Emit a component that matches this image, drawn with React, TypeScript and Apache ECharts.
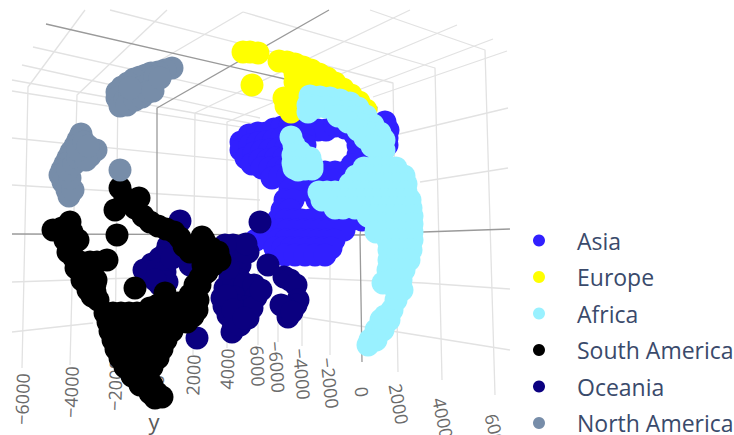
import React, { useEffect, useRef } from "react";
import * as echarts from "echarts";

const asia = [[241,142],[249,135],[258,133],[266,133],[274,129],[282,127],[290,126],[300,125],[310,128],[318,130],[326,130],[335,126],[345,128],[355,135],[358,145],[358,155],[352,165],[345,172],[335,172],[325,172],
[241,150],[250,145],[258,143],[266,142],[274,140],[282,138],[290,136],[304,135],[305,145],[303,150],
[246,158],[254,153],[262,151],[270,150],[278,149],[286,148],[252,164],[260,160],[268,160],[276,158],[284,158],[262,168],[270,168],[278,168],[286,168],[272,178],[280,176],[288,176],
[365,158],[375,155],[385,122],[388,130],[387,138],[387,145],
[295,180],[305,180],[315,180],[325,180],[335,180],[290,190],[298,190],[306,190],[314,190],[322,190],[330,190],[338,190],
[285,200],[293,200],[317,200],[325,200],[333,200],[341,200],[282,210],[290,210],[322,210],[330,210],[338,210],[346,210],
[278,220],[286,220],[294,220],[302,220],[310,220],[318,220],[326,220],[334,220],[342,220],[350,220],[362,220],
[272,230],[280,230],[288,230],[296,230],[304,230],[312,230],[320,230],[328,230],[336,230],[344,230],
[256,240],[270,240],[278,240],[286,240],[294,240],[302,240],[310,240],[318,240],[326,240],[334,240],
[275,248],[283,248],[291,248],[299,248],[307,248],[315,248],[323,248],[331,248],[285,255],[295,255],[305,255],[315,255],[325,255]];
const europe = [[243,52],[250,52],[258,53],[252,85],[279,61],[287,62],[295,64],[303,67],[311,70],[319,74],[327,78],[335,83],[343,89],[351,95],[359,102],[366,110],[295,73],[304,76],[295,82],[299,90],[309,85],[318,84],[328,89],[338,95],[284,98],[286,106],[291,112],[300,98]];
const africa = [[291,137],[294,145],[300,152],[293,155],[293,163],[302,160],[310,158],[312,165],[300,168],[294,168],[305,169],[312,169],[298,170],
[310,96],[320,97],[330,98],[340,100],[350,103],[358,108],[366,116],[373,125],[380,133],[384,140],[384,150],[308,105],[308,112],[316,107],[326,107],[336,108],[346,111],[354,117],[360,124],[366,132],[372,140],[378,148],[338,116],[348,122],[358,130],[365,138],[372,146],
[364,168],[372,168],[380,168],[388,168],[396,168],[356,176],[364,176],[372,176],[380,176],[388,176],[396,176],[404,176],
[350,184],[358,184],[366,184],[374,184],[382,184],[390,184],[398,184],[406,184],
[319,192],[327,192],[335,192],[343,192],[351,192],[359,192],[367,192],[375,192],[383,192],[391,192],[399,192],[406,192],
[322,200],[330,200],[338,200],[346,200],[354,200],[362,200],[370,200],[378,200],[386,200],[394,200],[402,200],[410,200],
[335,208],[343,208],[355,208],[363,208],[371,208],[379,208],[387,208],[395,208],[403,208],[411,208],
[368,216],[376,216],[384,216],[392,216],[400,216],[412,216],[376,224],[384,224],[392,224],[400,224],[412,224],[376,232],[384,232],[392,232],[400,232],[412,232],
[388,240],[396,240],[404,240],[412,240],[389,250],[397,250],[405,250],[411,250],[389,260],[397,260],[405,260],[409,260],[388,270],[396,270],[404,270],[383,283],[393,280],[401,280],[396,290],[402,290],[396,300],[392,310],[385,316],[381,320],[389,320],[376,330],[383,330],[370,340],[376,340],[368,345]];
const southAmerica = [[120,188],[139,198],[132,203],[115,210],[125,198],[135,208],[143,216],[150,222],[158,226],[166,229],[174,232],[180,238],[184,246],[190,252],[198,250],[204,240],[202,237],[211,248],[218,252],[220,260],[213,265],[207,272],[200,278],[195,285],[190,295],[185,303],
[53,230],[62,228],[70,222],[72,232],[78,240],[65,240],[72,245],[68,252],[74,258],[80,262],[76,268],[84,270],[90,262],[97,262],[107,260],[82,280],[90,278],[96,280],[88,290],[95,292],[98,300],[92,296],[117,235],[135,288],[92,272],[92,265],[95,284],
[165,293],[150,308],[158,305],[170,303],[178,303],[186,305],[194,308],[197,310],[196,290],[200,285],[203,275],[198,300],[193,316],[185,315],[203,265],[207,258],[210,255],
[105,313],[113,313],[121,313],[129,313],[137,313],[145,313],[153,313],[161,313],[169,313],[177,313],[185,313],
[108,322],[116,322],[124,322],[132,322],[140,322],[148,322],[156,322],[164,322],[172,322],[180,322],[187,322],
[110,331],[118,331],[126,331],[134,331],[142,331],[150,331],[158,331],[166,331],[172,331],
[113,340],[121,340],[129,340],[137,340],[145,340],[153,340],[161,340],[166,340],
[116,349],[124,349],[132,349],[140,349],[148,349],[156,349],[162,349],
[120,358],[128,358],[136,358],[144,358],[152,358],[158,358],
[125,367],[133,367],[141,367],[149,367],[152,367],[132,376],[140,376],[148,376],[140,385],[148,385],[152,385],[150,393],[157,393],[162,397],[155,398]];
const oceania = [[180,221],[176,230],[172,238],[168,246],[165,254],[160,258],[152,264],[144,270],[150,272],[158,270],[165,272],[167,282],[160,285],[155,280],[188,258],[183,252],[190,265],[197,338],[172,258],
[233,245],[240,248],[248,252],[241,256],[234,255],[226,252],[233,262],[240,265],[237,273],[230,278],[240,280],[225,288],[222,298],[234,284],[245,284],[254,285],[234,297],[256,297],[245,307],[224,306],[228,315],[236,310],[233,322],[240,320],[232,332],[248,318],[252,308],[261,290],[246,244],[225,245],[222,262],[228,268],[232,304],[226,296],[233,310],[240,325],[244,318],
[260,222],[268,265],[284,277],[290,280],[296,285],[298,300],[296,305],[288,317],[285,307],[281,305],[292,312]];
const northAmerica = [[172,68],[165,70],[158,72],[151,73],[146,75],[140,77],[134,79],[128,83],[122,87],[117,92],[117,98],[120,106],[125,100],[130,95],[136,90],[142,87],[150,82],[155,77],[127,105],[135,100],[142,97],[148,92],[153,91],[160,78],[130,88],
[81,134],[78,140],[75,146],[71,152],[68,158],[65,164],[62,170],[60,175],[63,182],[67,190],[69,196],[73,190],[70,178],[68,170],[74,164],[78,158],[84,152],[96,150],[90,156],[86,160],[78,150],[84,142],[88,146],[120,170]];

const legendOrder = ["Asia", "Europe", "Africa", "South America", "Oceania", "North America"];

const axisLines = [
  [[46,24],[285,79],[377,107],[360,235],[362,362]],
  [[329,10],[157,108],[157,232]],
  [[12,234],[360,235],[423,232],[510,229]],
];
const gridLines = [
  [[85,10],[28,87],[22,368]],
  [[167,10],[77,95],[70,365]],
  [[243,12],[118,85],[115,360]],
  [[410,10],[195,113],[193,355]],
  [[457,25],[227,122],[227,348]],
  [[493,39],[258,128],[258,345]],
  [[507,51],[373,97]],
  [[278,300],[278,342]],
  [[302,300],[302,346]],
  [[330,250],[330,355]],
  [[110,10],[393,83],[398,372]],
  [[243,12],[435,68],[442,380]],
  [[370,10],[485,50],[495,395]],
  [[33,47],[290,105]],
  [[22,65],[260,118]],
  [[12,80],[260,125]],
  [[12,91],[260,130]],
  [[12,138],[260,163]],
  [[12,185],[260,200]],
  [[12,282],[133,278]],
  [[12,332],[93,323]],
  [[395,135],[508,108]],
  [[420,182],[508,168]],
  [[308,278],[423,283],[510,289]],
  [[302,317],[398,332],[510,350]],
];

const tickLabels = ["−6000","−4000","−2000","0","2000","4000","6000","−6000","−4000","−2000","0","2000","4000","6000"];
const tickX = [22,71,115,157,193,227,258,277,302,330,362,399,443,496];
const tickY = [399,392,385,380,375,369,366,367,374,383,392,404,418,434];
const tickAngle = [88,88,88,88,88,88,-88,-86,-85,-84,-84,-80,-78,-76];

export default function App() {
  const ref = useRef<HTMLDivElement>(null);
  useEffect(() => {
    const chart = echarts.init(ref.current!, undefined, { renderer: "svg" });
    const dots = (name: string, data: number[][], color: string, z: number) => ({
      type: "scatter", name, data, symbol: "circle", symbolSize: 23, z, silent: true,
      itemStyle: { color, opacity: 1 },
    });
    const poly = (data: number[][], color: string, width: number) => ({
      type: "line", data, symbol: "none", silent: true, z: 1,
      lineStyle: { color, width }, animation: false,
    });
    chart.setOption({
      animation: false,
      backgroundColor: "#ffffff",
      grid: { left: 0, right: 0, top: 0, bottom: 0 },
      xAxis: { type: "value", min: 0, max: 734, show: false },
      yAxis: { type: "value", min: 0, max: 435, inverse: true, show: false },
      legend: {
        data: legendOrder, orient: "vertical", left: 528, top: 224, itemWidth: 66, itemHeight: 12,
        itemGap: 13.5, icon: "circle", selectedMode: false, padding: [5, 0, 0, 5],
        textStyle: { color: "#3a4a6b", fontFamily: "Open Sans", fontSize: 23 },
      },
      graphic: [
        ...tickLabels.map((t, i) => ({
          type: "text", x: tickX[i], y: tickY[i], rotation: (tickAngle[i] * Math.PI) / 180, z: 0, silent: true,
          style: { text: t, fill: "#6a6a6a", font: '18px "Open Sans"', textAlign: "center", textVerticalAlign: "middle" },
        })),
        { type: "text", x: 154, y: 421, z: 0, silent: true,
          style: { text: "y", fill: "#5a5a5a", font: '22px "Open Sans"', textAlign: "center", textVerticalAlign: "middle" } },
      ],
      series: [
        ...gridLines.map((l) => poly(l, "#e2e2e2", 1.3)),
        ...axisLines.map((l) => poly(l, "#9a9a9a", 1.3)),
        dots("Asia", asia, "#3120ff", 3),
        dots("Oceania", oceania, "#0b0080", 4),
        dots("South America", southAmerica, "#000000", 5),
        dots("Europe", europe, "#ffff00", 6),
        dots("Africa", africa, "#99f1ff", 7),
        dots("North America", northAmerica, "#778da9", 8),
      ],
    });
    return () => chart.dispose();
  }, []);
  return <div ref={ref} style={{ position: "fixed", left: 0, top: 0, width: 734, height: 435 }} />;
}
